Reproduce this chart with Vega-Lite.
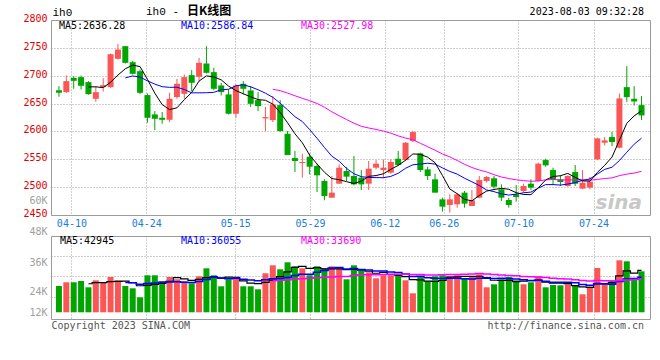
{
 "$schema": "https://vega.github.io/schema/vega-lite/v6.json",
 "background": "white",
 "padding": {"left": 22, "top": 4, "right": 10, "bottom": 5},
 "bounds": "flush",
 "spacing": 21,
 "data": {"values": [
  {"d":"04-07","i":0,"o":2674.1,"h":2681.3,"l":2662.2,"c":2669.3,"v":27002},
  {"d":"04-10","i":1,"o":2670.5,"h":2700.4,"l":2669.3,"c":2690.3,"v":30762},
  {"d":"04-11","i":2,"o":2696.2,"h":2699.2,"l":2676.5,"c":2690.8,"v":30762},
  {"d":"04-12","i":3,"o":2697.4,"h":2700.4,"l":2675.3,"c":2681.9,"v":32129},
  {"d":"04-13","i":4,"o":2688.5,"h":2690.3,"l":2665.8,"c":2666.9,"v":25635},
  {"d":"04-14","i":5,"o":2658.6,"h":2681.3,"l":2653.2,"c":2670.5,"v":32813},
  {"d":"04-17","i":6,"o":2679.5,"h":2695.6,"l":2671.7,"c":2683.1,"v":30762},
  {"d":"04-18","i":7,"o":2679.5,"h":2739.8,"l":2678.3,"c":2738.6,"v":36231},
  {"d":"04-19","i":8,"o":2730.3,"h":2757.2,"l":2729.1,"c":2747.0,"v":32813},
  {"d":"04-20","i":9,"o":2753.0,"h":2753.0,"l":2721.9,"c":2723.1,"v":27002},
  {"d":"04-21","i":10,"o":2724.3,"h":2726.7,"l":2702.2,"c":2703.4,"v":24610},
  {"d":"04-24","i":11,"o":2708.2,"h":2711.2,"l":2666.9,"c":2669.3,"v":15381},
  {"d":"04-25","i":12,"o":2665.2,"h":2668.1,"l":2615.6,"c":2624.5,"v":37940},
  {"d":"04-26","i":13,"o":2630.5,"h":2636.5,"l":2602.4,"c":2622.7,"v":37940},
  {"d":"04-27","i":14,"o":2624.5,"h":2634.7,"l":2613.8,"c":2620.9,"v":31787},
  {"d":"04-28","i":15,"o":2620.9,"h":2669.3,"l":2616.8,"c":2658.6,"v":36231},
  {"d":"05-04","i":16,"o":2661.6,"h":2694.4,"l":2658.6,"c":2685.5,"v":33838},
  {"d":"05-05","i":17,"o":2667.5,"h":2702.2,"l":2658.6,"c":2697.4,"v":31787},
  {"d":"05-08","i":18,"o":2701.0,"h":2710.0,"l":2672.3,"c":2687.3,"v":29737},
  {"d":"05-09","i":19,"o":2698.0,"h":2732.1,"l":2690.3,"c":2723.1,"v":36914},
  {"d":"05-10","i":20,"o":2721.9,"h":2753.0,"l":2704.0,"c":2705.2,"v":45118},
  {"d":"05-11","i":21,"o":2706.4,"h":2714.2,"l":2674.1,"c":2676.5,"v":37940},
  {"d":"05-12","i":22,"o":2682.5,"h":2687.3,"l":2664.6,"c":2670.5,"v":26660},
  {"d":"05-15","i":23,"o":2666.4,"h":2675.3,"l":2630.5,"c":2631.7,"v":33838},
  {"d":"05-16","i":24,"o":2631.7,"h":2684.3,"l":2624.5,"c":2682.5,"v":36231},
  {"d":"05-17","i":25,"o":2685.5,"h":2690.3,"l":2666.4,"c":2676.5,"v":26660},
  {"d":"05-18","i":26,"o":2673.5,"h":2681.3,"l":2644.2,"c":2649.6,"v":26660},
  {"d":"05-19","i":27,"o":2656.2,"h":2670.5,"l":2636.5,"c":2645.4,"v":23584},
  {"d":"05-22","i":28,"o":2623.3,"h":2644.2,"l":2600.6,"c":2625.7,"v":39991},
  {"d":"05-23","i":29,"o":2620.3,"h":2663.4,"l":2616.8,"c":2648.4,"v":48194},
  {"d":"05-24","i":30,"o":2647.2,"h":2656.2,"l":2599.4,"c":2600.6,"v":44092},
  {"d":"05-25","i":31,"o":2595.8,"h":2600.6,"l":2557.6,"c":2557.6,"v":51270},
  {"d":"05-26","i":32,"o":2552.2,"h":2564.8,"l":2527.1,"c":2546.9,"v":47168},
  {"d":"05-29","i":33,"o":2543.3,"h":2560.0,"l":2517.0,"c":2545.1,"v":45118},
  {"d":"05-30","i":34,"o":2554.6,"h":2560.6,"l":2523.0,"c":2536.7,"v":37940},
  {"d":"05-31","i":35,"o":2537.9,"h":2540.9,"l":2491.3,"c":2521.2,"v":47168},
  {"d":"06-01","i":36,"o":2511.0,"h":2514.0,"l":2476.4,"c":2484.1,"v":45118},
  {"d":"06-02","i":37,"o":2481.1,"h":2520.0,"l":2481.1,"c":2490.1,"v":47168},
  {"d":"06-05","i":38,"o":2506.2,"h":2540.9,"l":2506.2,"c":2534.9,"v":45118},
  {"d":"06-06","i":39,"o":2528.9,"h":2536.1,"l":2511.0,"c":2518.8,"v":33838},
  {"d":"06-07","i":40,"o":2520.0,"h":2555.8,"l":2503.2,"c":2505.0,"v":48194},
  {"d":"06-08","i":41,"o":2517.0,"h":2530.7,"l":2494.9,"c":2505.0,"v":42383},
  {"d":"06-09","i":42,"o":2506.2,"h":2546.9,"l":2494.9,"c":2533.1,"v":41016},
  {"d":"06-12","i":43,"o":2534.9,"h":2548.6,"l":2531.9,"c":2542.1,"v":34864},
  {"d":"06-13","i":44,"o":2530.7,"h":2549.8,"l":2515.8,"c":2534.9,"v":37940},
  {"d":"06-14","i":45,"o":2526.0,"h":2549.8,"l":2524.1,"c":2545.1,"v":37940},
  {"d":"06-15","i":46,"o":2551.0,"h":2564.8,"l":2537.9,"c":2539.7,"v":39307},
  {"d":"06-16","i":47,"o":2548.6,"h":2580.9,"l":2546.9,"c":2579.7,"v":32813},
  {"d":"06-19","i":48,"o":2582.7,"h":2600.6,"l":2580.9,"c":2598.8,"v":19483},
  {"d":"06-20","i":49,"o":2560.6,"h":2561.8,"l":2527.1,"c":2530.7,"v":36914},
  {"d":"06-21","i":50,"o":2531.9,"h":2536.7,"l":2512.8,"c":2520.0,"v":31787},
  {"d":"06-26","i":51,"o":2514.0,"h":2524.1,"l":2490.1,"c":2490.1,"v":36914},
  {"d":"06-27","i":52,"o":2478.1,"h":2481.1,"l":2456.0,"c":2465.0,"v":37940},
  {"d":"06-28","i":53,"o":2468.0,"h":2487.1,"l":2454.2,"c":2478.1,"v":36914},
  {"d":"06-29","i":54,"o":2469.2,"h":2488.9,"l":2463.2,"c":2487.1,"v":37940},
  {"d":"06-30","i":55,"o":2490.1,"h":2493.1,"l":2463.2,"c":2470.4,"v":34864},
  {"d":"07-03","i":56,"o":2466.2,"h":2494.9,"l":2466.2,"c":2476.4,"v":36231},
  {"d":"07-04","i":57,"o":2481.1,"h":2520.0,"l":2479.9,"c":2512.8,"v":38965},
  {"d":"07-05","i":58,"o":2511.0,"h":2520.0,"l":2508.0,"c":2518.2,"v":25635},
  {"d":"07-06","i":59,"o":2515.8,"h":2520.0,"l":2497.3,"c":2500.8,"v":28711},
  {"d":"07-07","i":60,"o":2496.1,"h":2505.0,"l":2475.2,"c":2481.1,"v":33838},
  {"d":"07-10","i":61,"o":2476.9,"h":2481.1,"l":2463.2,"c":2468.0,"v":36231},
  {"d":"07-11","i":62,"o":2487.1,"h":2503.8,"l":2474.0,"c":2482.3,"v":32813},
  {"d":"07-12","i":63,"o":2493.1,"h":2506.2,"l":2490.1,"c":2502.0,"v":28711},
  {"d":"07-13","i":64,"o":2506.2,"h":2514.0,"l":2494.9,"c":2499.1,"v":30762},
  {"d":"07-14","i":65,"o":2511.0,"h":2543.9,"l":2509.8,"c":2542.1,"v":36914},
  {"d":"07-17","i":66,"o":2548.6,"h":2551.0,"l":2536.7,"c":2539.1,"v":25635},
  {"d":"07-18","i":67,"o":2530.7,"h":2534.9,"l":2503.8,"c":2512.8,"v":28028},
  {"d":"07-19","i":68,"o":2514.0,"h":2521.2,"l":2502.0,"c":2509.2,"v":27686},
  {"d":"07-20","i":69,"o":2502.0,"h":2521.2,"l":2500.8,"c":2520.0,"v":28711},
  {"d":"07-21","i":70,"o":2527.1,"h":2539.7,"l":2502.0,"c":2506.2,"v":27002},
  {"d":"07-24","i":71,"o":2497.3,"h":2530.7,"l":2496.1,"c":2508.0,"v":18457},
  {"d":"07-25","i":72,"o":2499.1,"h":2518.2,"l":2496.1,"c":2509.8,"v":26319},
  {"d":"07-26","i":73,"o":2549.8,"h":2588.7,"l":2548.6,"c":2587.5,"v":45459},
  {"d":"07-27","i":74,"o":2579.7,"h":2589.9,"l":2574.9,"c":2583.9,"v":28711},
  {"d":"07-28","i":75,"o":2589.9,"h":2599.4,"l":2573.7,"c":2580.9,"v":32813},
  {"d":"07-31","i":76,"o":2570.8,"h":2668.1,"l":2569.6,"c":2659.2,"v":53321},
  {"d":"08-01","i":77,"o":2679.5,"h":2717.1,"l":2653.2,"c":2661.6,"v":52295},
  {"d":"08-02","i":78,"o":2658.6,"h":2681.3,"l":2646.6,"c":2653.8,"v":34180},
  {"d":"08-03","i":79,"o":2647.2,"h":2663.4,"l":2620.3,"c":2628.7,"v":42041}
 ]},
 "transform": [
  {"window": [{"op": "mean", "field": "c", "as": "ma5"}, {"op": "mean", "field": "v", "as": "vma5"}, {"op": "count", "as": "n5"}], "frame": [-4, 0], "sort": [{"field": "i", "order": "ascending"}]},
  {"window": [{"op": "mean", "field": "c", "as": "ma10"}, {"op": "mean", "field": "v", "as": "vma10"}, {"op": "count", "as": "n10"}], "frame": [-9, 0], "sort": [{"field": "i", "order": "ascending"}]},
  {"window": [{"op": "mean", "field": "c", "as": "ma30"}, {"op": "mean", "field": "v", "as": "vma30"}, {"op": "count", "as": "n30"}], "frame": [-29, 0], "sort": [{"field": "i", "order": "ascending"}]}
 ],
 "vconcat": [
  {
   "width": 599, "height": 195,
   "layer": [
    {"mark": {"type": "rule", "strokeWidth": 1},
     "encoding": {
      "x": {"field": "i", "type": "quantitative", "scale": {"domain": [-0.4, 79.47], "nice": false, "zero": false},
            "axis": {"values": [1.69, 11.83, 23.91, 34.04, 44.17, 52.17, 62.31, 72.49], "tickCount": 30,
                     "labelExpr": "datum.value < 5 ? '04-10' : datum.value < 15 ? '04-24' : datum.value < 30 ? '05-15' : datum.value < 40 ? '05-29' : datum.value < 48 ? '06-12' : datum.value < 58 ? '06-26' : datum.value < 68 ? '07-10' : '07-24'",
                     "labelColor": "#1a7dd7", "labelPadding": 3, "labelFlush": false, "labelOverlap": false, "grid": true, "title": null}},
      "y": {"field": "l", "type": "quantitative", "scale": {"domain": [2450, 2800], "nice": false, "zero": false},
            "axis": {"values": [2450, 2474, 2500, 2550, 2600, 2650, 2700, 2750, 2800], "tickCount": 30, "format": "d",
                     "labelExpr": "datum.value == 2474 ? '60K' : datum.label",
                     "labelColor": {"condition": {"test": "datum.value == 2474", "value": "#a0a0a0"}, "value": "#e00000"},
                     "gridOpacity": {"condition": {"test": "datum.value == 2474", "value": 0}, "value": 1},
                     "labelPadding": 4, "labelOffset": -1.5, "labelOverlap": false, "labelFlush": false,
                     "title": "ih0", "titleAngle": 0, "titleAlign": "left", "titleBaseline": "bottom", "titleX": 1, "titleY": -3,
                     "titleFont": "Liberation Mono", "titleFontSize": 11, "titleColor": "#000000"}},
      "y2": {"field": "h"},
      "color": {"condition": {"test": "datum.c >= datum.o", "value": "#fb5656"}, "value": "#00a500"}
     }},
    {"mark": {"type": "bar", "width": 6},
     "encoding": {
      "x": {"field": "i", "type": "quantitative"},
      "y": {"field": "o", "type": "quantitative"},
      "y2": {"field": "c"},
      "color": {"condition": {"test": "datum.c >= datum.o", "value": "#fb5656"}, "value": "#00a500"}
     }},
    {"transform": [{"filter": "datum.n30 >= 30"}],
     "mark": {"type": "line", "color": "#ff00ff", "strokeWidth": 1},
     "encoding": {"x": {"field": "i", "type": "quantitative"}, "y": {"field": "ma30", "type": "quantitative"}}},
    {"transform": [{"filter": "datum.n10 >= 10"}],
     "mark": {"type": "line", "color": "#0000ff", "strokeWidth": 1},
     "encoding": {"x": {"field": "i", "type": "quantitative"}, "y": {"field": "ma10", "type": "quantitative"}}},
    {"transform": [{"filter": "datum.n5 >= 5"}],
     "mark": {"type": "line", "color": "#000000", "strokeWidth": 1},
     "encoding": {"x": {"field": "i", "type": "quantitative"}, "y": {"field": "ma5", "type": "quantitative"}}},
    {"data": {"values": [{}]},
     "mark": {"type": "text", "align": "left", "baseline": "top", "dx": 3, "dy": 1, "color": "#000000", "font": "DejaVu Sans Mono", "fontSize": 10},
     "encoding": {"x": {"datum": -0.4}, "y": {"datum": 2800}, "text": {"value": "MA5:2636.28"}}},
    {"data": {"values": [{}]},
     "mark": {"type": "text", "align": "left", "baseline": "top", "dx": 125, "dy": 1, "color": "#0000ff", "font": "DejaVu Sans Mono", "fontSize": 10},
     "encoding": {"x": {"datum": -0.4}, "y": {"datum": 2800}, "text": {"value": "MA10:2586.84"}}},
    {"data": {"values": [{}]},
     "mark": {"type": "text", "align": "left", "baseline": "top", "dx": 245, "dy": 1, "color": "#ff00ff", "font": "DejaVu Sans Mono", "fontSize": 10},
     "encoding": {"x": {"datum": -0.4}, "y": {"datum": 2800}, "text": {"value": "MA30:2527.98"}}},
    {"data": {"values": [{}]},
     "mark": {"type": "text", "align": "left", "baseline": "bottom", "dx": 90, "dy": -3, "color": "#000000", "font": "Liberation Mono", "fontSize": 11},
     "encoding": {"x": {"datum": -0.4}, "y": {"datum": 2800}, "text": {"value": "ih0 -"}}},
    {"data": {"values": [{}]},
     "mark": {"type": "text", "align": "left", "baseline": "bottom", "dx": 131, "dy": -2, "color": "#000000", "font": "Noto Sans CJK SC", "fontSize": 12, "fontWeight": "bold"},
     "encoding": {"x": {"datum": -0.4}, "y": {"datum": 2800}, "text": {"value": "日K线图"}}},
    {"data": {"values": [{}]},
     "mark": {"type": "text", "align": "right", "baseline": "bottom", "dx": -1, "dy": -3, "color": "#000000", "font": "DejaVu Sans Mono", "fontSize": 10},
     "encoding": {"x": {"datum": 79.47}, "y": {"datum": 2800}, "text": {"value": "2023-08-03 09:32:28"}}},
    {"data": {"values": [{}]},
     "mark": {"type": "text", "align": "right", "baseline": "bottom", "dx": -3, "dy": -2, "font": "DejaVu Sans", "fontSize": 20, "fontStyle": "italic", "fontWeight": "bold", "color": "#c8c8c8"},
     "encoding": {"x": {"datum": 79.47}, "y": {"datum": 2450}, "text": {"value": "sina"}}}
   ]
  },
  {
   "width": 599, "height": 83,
   "layer": [
    {"mark": {"type": "bar", "width": 6},
     "encoding": {
      "x": {"field": "i", "type": "quantitative", "scale": {"domain": [-0.4, 79.47], "nice": false, "zero": false},
            "axis": {"values": [1.69, 11.83, 23.91, 34.04, 44.17, 52.17, 62.31, 72.49], "tickCount": 30, "labels": false, "grid": true,
                     "title": "Copyright 2023 SINA.COM", "titleAnchor": "start", "titleAlign": "left", "titleBaseline": "top", "titlePadding": 1,
                     "titleFont": "DejaVu Sans Mono", "titleFontSize": 10, "titleFontWeight": "normal", "titleColor": "#555555"}},
      "y": {"field": "v", "type": "quantitative", "scale": {"domain": [-6871, 78246], "nice": false, "zero": false},
            "axis": {"values": [0, 15383, 21536, 36918, 51275, 57428, 78246], "tickCount": 30,
                     "labelExpr": "datum.value == 0 ? '12K' : datum.value == 21536 ? '24K' : datum.value == 51275 ? '36K' : datum.value == 78246 ? '48K' : ''",
                     "labelColor": "#a0a0a0",
                     "labelBaseline": {"condition": {"test": "datum.value == 78246", "value": "bottom"}, "value": "middle"},
                     "gridOpacity": {"condition": {"test": "datum.value == 15383 || datum.value == 36918 || datum.value == 57428", "value": 1}, "value": 0},
                     "labelPadding": 4, "labelOverlap": false, "labelFlush": false, "title": null}},
      "y2": {"datum": 0},
      "color": {"condition": {"test": "datum.c >= datum.o", "value": "#fb5656"}, "value": "#00a500"}
     }},
    {"transform": [{"filter": "datum.n5 >= 5"}],
     "mark": {"type": "line", "color": "#000000", "strokeWidth": 1.2, "interpolate": "step"},
     "encoding": {"x": {"field": "i", "type": "quantitative"}, "y": {"field": "vma5", "type": "quantitative"}}},
    {"transform": [{"filter": "datum.n10 >= 10"}],
     "mark": {"type": "line", "color": "#0000ff", "strokeWidth": 1.5, "interpolate": "step"},
     "encoding": {"x": {"field": "i", "type": "quantitative"}, "y": {"field": "vma10", "type": "quantitative"}}},
    {"transform": [{"filter": "datum.n30 >= 30"}],
     "mark": {"type": "line", "color": "#ff00ff", "strokeWidth": 1.5, "interpolate": "step"},
     "encoding": {"x": {"field": "i", "type": "quantitative"}, "y": {"field": "vma30", "type": "quantitative"}}},
    {"data": {"values": [{}]},
     "mark": {"type": "text", "align": "left", "baseline": "top", "dx": 4, "dy": 0, "color": "#000000", "font": "DejaVu Sans Mono", "fontSize": 10},
     "encoding": {"x": {"datum": -0.4}, "y": {"datum": 78246}, "text": {"value": "MA5:42945"}}},
    {"data": {"values": [{}]},
     "mark": {"type": "text", "align": "left", "baseline": "top", "dx": 125, "dy": 0, "color": "#0000ff", "font": "DejaVu Sans Mono", "fontSize": 10},
     "encoding": {"x": {"datum": -0.4}, "y": {"datum": 78246}, "text": {"value": "MA10:36055"}}},
    {"data": {"values": [{}]},
     "mark": {"type": "text", "align": "left", "baseline": "top", "dx": 245, "dy": 0, "color": "#ff00ff", "font": "DejaVu Sans Mono", "fontSize": 10},
     "encoding": {"x": {"datum": -0.4}, "y": {"datum": 78246}, "text": {"value": "MA30:33690"}}},
    {"data": {"values": [{}]},
     "mark": {"type": "text", "align": "right", "baseline": "top", "dx": -1, "dy": 2, "color": "#555555", "font": "DejaVu Sans Mono", "fontSize": 10},
     "encoding": {"x": {"datum": 79.47}, "y": {"datum": -6871}, "text": {"value": "http://finance.sina.com.cn"}}}
   ]
  }
 ],
 "config": {
  "view": {"stroke": "#9a9a9a", "strokeWidth": 1},
  "axis": {"ticks": false, "tickSize": 0, "domain": false, "gridColor": "#a0a0a0", "gridDash": [1, 2], "gridWidth": 1, "labelFont": "DejaVu Sans Mono", "labelFontSize": 10, "labelOverlap": false, "titleFont": "DejaVu Sans Mono", "titleFontWeight": "normal"},
  "text": {"font": "DejaVu Sans Mono", "fontSize": 10}
 }
}
